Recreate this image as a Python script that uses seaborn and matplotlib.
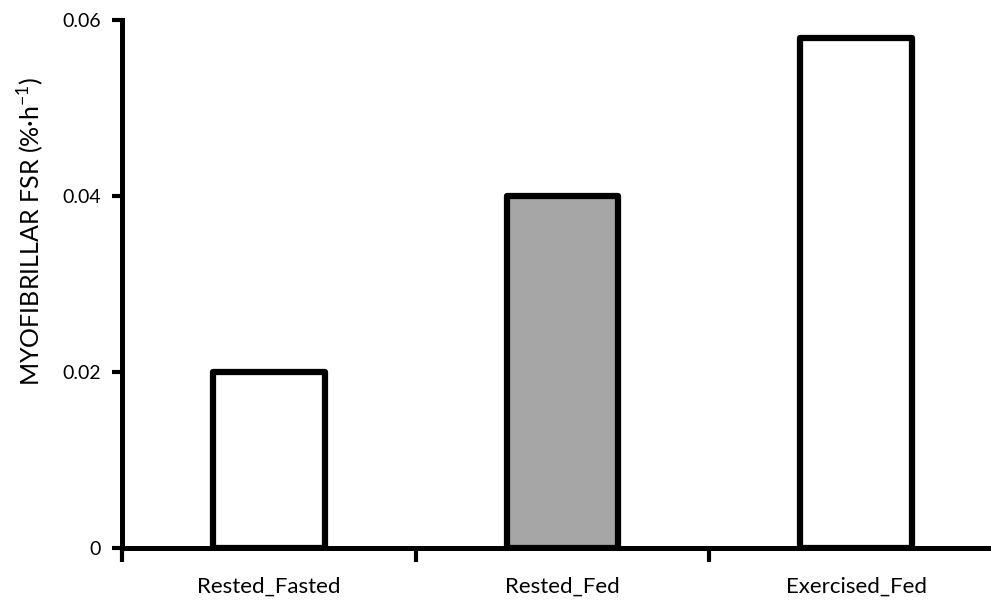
import numpy as np
import pandas as pd
import matplotlib
matplotlib.use('Agg')
import matplotlib.pyplot as plt
import seaborn as sns
from matplotlib.ticker import FixedLocator

groups = ['Rested_Fasted', 'Rested_Fed', 'Exercised_Fed']
fsr = [0.020, 0.040, 0.058]
bar_colors = ['white', '#a6a6a6', 'white']
yticks = [0, 0.02, 0.04, 0.06]
ytick_labels = ['0', '0.02', '0.04', '0.06']

df = pd.DataFrame({'group': groups, 'fsr': fsr})

sns.set_style('white')
plt.rcParams['font.family'] = ['Lato', 'DejaVu Sans']
plt.rcParams['mathtext.fontset'] = 'custom'
plt.rcParams['mathtext.rm'] = 'Lato'

fig = plt.figure(figsize=(9.91, 6.05), dpi=100)
ax = fig.add_axes([122 / 991, 57 / 605, (1003 - 122) / 991, (548 - 20) / 605])

sns.barplot(data=df, x='group', y='fsr', hue='group', palette=bar_colors,
            width=0.38, edgecolor='black', linewidth=4.5, legend=False,
            saturation=1, ax=ax)
for p in ax.patches:
    p.set_joinstyle('round')

ax.set_xlim(-0.5, 2.5)
ax.set_ylim(0, 0.06)
ax.set_yticks(yticks)
ax.set_yticklabels(ytick_labels, fontsize=14, color='black')

# category-boundary ticks on x, labels in between
ax.xaxis.set_major_locator(FixedLocator([0, 1, 2]))
ax.set_xticklabels(groups, fontsize=16, color='black')
ax.xaxis.set_minor_locator(FixedLocator([-0.5, 0.5, 1.5, 2.5]))
ax.tick_params(axis='x', which='major', bottom=False, length=0, pad=21)
ax.tick_params(axis='x', which='minor', bottom=True, length=10, width=3,
               direction='out', color='black')
ax.tick_params(axis='y', left=True, length=7, width=3, direction='out',
               color='black', pad=8)

ax.set_xlabel('')
ax.set_ylabel('MYOFIBRILLAR FSR (%·h$^{\\mathrm{-1}}$)', fontsize=18,
              color='black')
ax.yaxis.set_label_coords(-0.086, 0.6)

for s in ['top', 'right']:
    ax.spines[s].set_visible(False)
for s in ['left', 'bottom']:
    ax.spines[s].set_linewidth(3.6)
    ax.spines[s].set_color('black')

fig.savefig('out.png', dpi=100)
